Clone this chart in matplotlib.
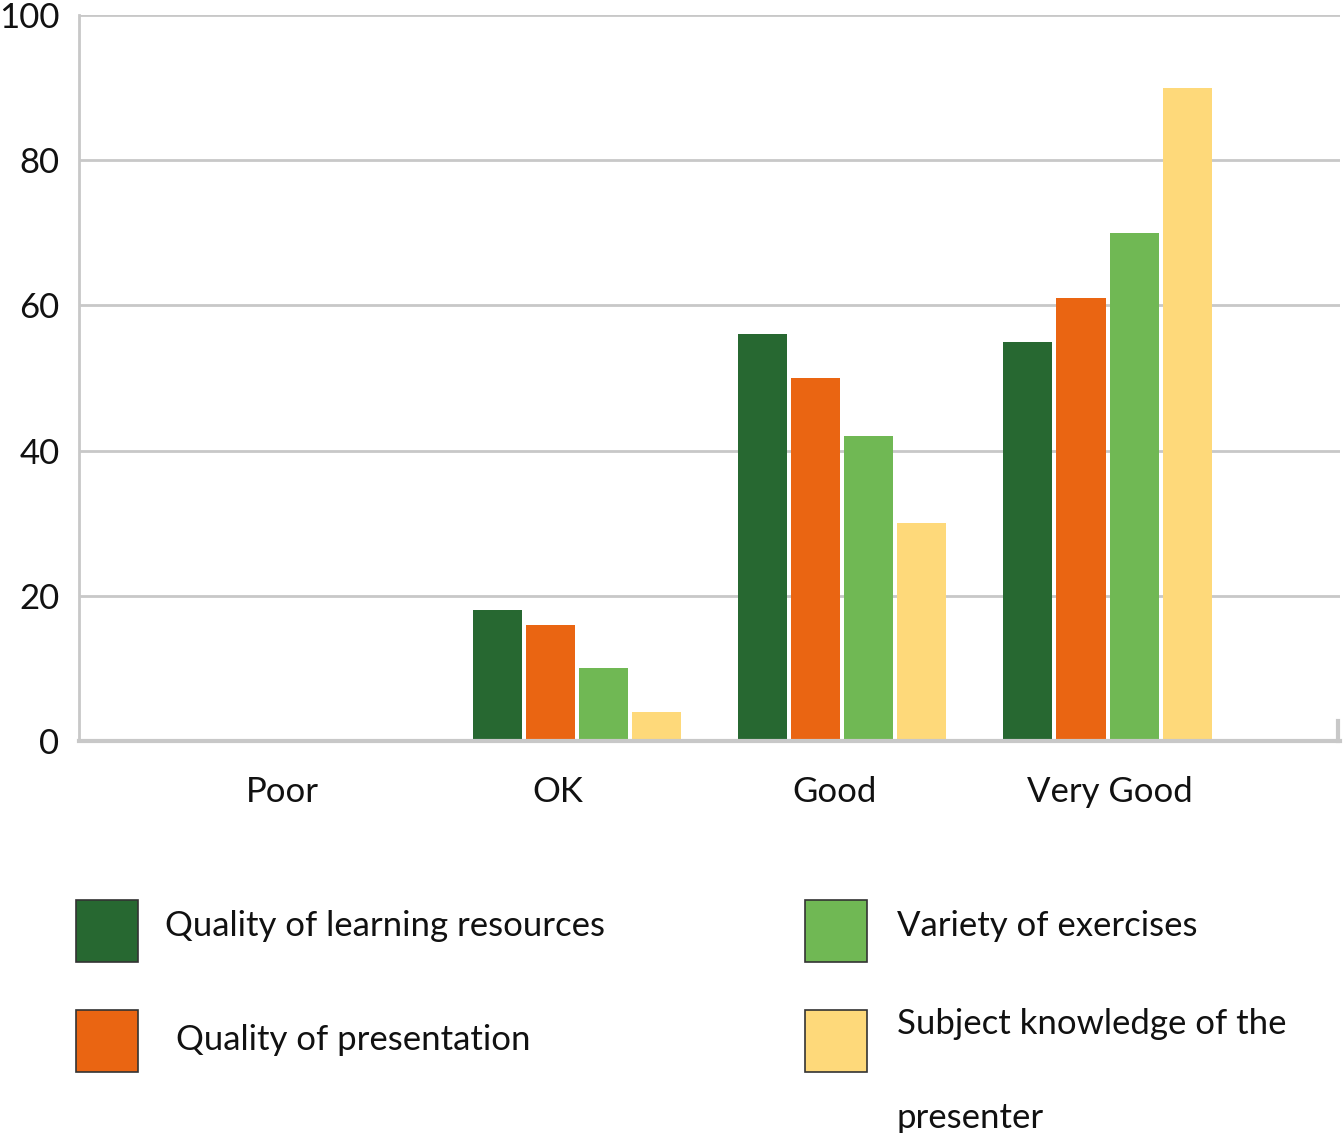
import matplotlib.pyplot as plt
import matplotlib.patches as mpatches
import numpy as np

plt.rcParams['font.family'] = ['Lato', 'DejaVu Sans']

# data
categories = ['Poor', 'OK', 'Good', 'Very Good']
series = ['Quality of learning resources', 'Quality of presentation',
          'Variety of exercises', 'Subject knowledge of the\npresenter']
learning = [0, 18, 56, 55]
presentation = [0, 16, 50, 61]
exercises = [0, 10, 42, 70]
knowledge = [0, 4, 30, 90]
colors = ['#276831', '#EA6512', '#70B854', '#FED97A']

W, H = 1343, 1133
fig = plt.figure(figsize=(W / 100, H / 100), dpi=100)
ax = fig.add_axes([79 / W, 1 - 741 / H, (1340 - 79) / W, (741 - 15) / H])

x = np.arange(len(categories))
offsets = [-0.3, -0.1, 0.1, 0.3]
for vals, off, c in zip([learning, presentation, exercises, knowledge], offsets, colors):
    ax.bar(x + off, vals, width=0.185, color=c, zorder=3)

ax.set_xlim(-0.876, 3.876)
ax.set_ylim(0, 100)
ax.set_yticks([0, 20, 40, 60, 80, 100])
ax.yaxis.grid(True, color='#c8c8c8', linewidth=2, zorder=0)
ax.set_xticks(x * 1.04 - 0.11)
ax.set_xticklabels(categories)
ax.tick_params(axis='both', length=0, labelsize=25, colors='#111111')
ax.tick_params(axis='y', pad=14)
ax.tick_params(axis='x', pad=25)

for s in ['top', 'right']:
    ax.spines[s].set_visible(False)
ax.spines['left'].set_color('#c8c8c8')
ax.spines['left'].set_linewidth(2)
ax.spines['bottom'].set_color('#c8c8c8')
ax.spines['bottom'].set_linewidth(3)
ax.spines['bottom'].set_zorder(4)
# small end tick at right of x axis
ax.plot([0.9985, 0.9985], [0, 0.028], transform=ax.transAxes, color='#c8c8c8',
        lw=3, clip_on=False, zorder=4)

# legend drawn by hand
def px(xp, yp):
    return xp / W, 1 - yp / H

legend_items = [
    (76, 900, 165, 926, series[0], colors[0]),
    (76, 1010, 176, 1040, series[1], colors[1]),
    (805, 900, 897, 926, series[2], colors[2]),
    (805, 1010, 897, 1071, series[3], colors[3]),
]
for bx, by, tx, ty, label, c in legend_items:
    x0, y0 = px(bx, by + 62)
    fig.patches.append(mpatches.Rectangle((x0, y0), 62 / W, 62 / H, transform=fig.transFigure,
                                          facecolor=c, edgecolor='#333333', linewidth=1.2))
    tx0, ty0 = px(tx, ty)
    fig.text(tx0, ty0, label, fontsize=25, va='center', ha='left', color='#111111',
             linespacing=3.4)

fig.savefig('out.png', dpi=100)
